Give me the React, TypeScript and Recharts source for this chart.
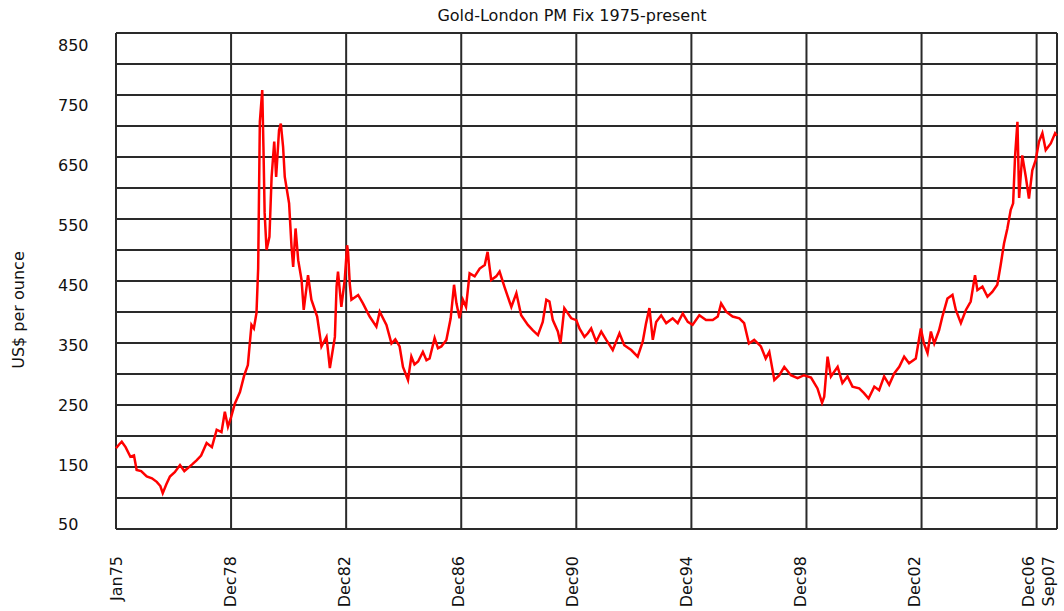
import React from 'react'
import { LineChart, Line, XAxis, YAxis, CartesianGrid } from 'recharts'

// months counted from Jan 1975
const months = [
  0, 1.2, 2.4, 4, 6, 7.5, 8.6, 10.5, 12.8, 15, 17, 18.5, 19.5, 21, 22.5, 24.5, 26.7, 28.5, 30, 32,
  33.6, 35.5, 37.8, 40, 42, 44, 45.4, 46.7, 48, 49.6, 51.7, 53.5, 55, 56.5, 57.5, 58.6, 59.3, 60, 61, 61.5,
  62, 62.8, 64, 64.9, 66, 66.8, 68, 68.75, 69.7, 70.4, 72.2, 73.2, 73.9, 74.9, 76, 77.4, 78.3, 80.1, 81.5, 83.9,
  85.7, 87.8, 89.2, 91.3, 92, 92.6, 94, 95.4, 96.4, 96.8, 97.5, 98.2, 101, 103, 105.8, 108.6, 110, 112.8, 114.9, 116.5,
  118.3, 119.7, 121.8, 123.2, 124.5, 126, 128, 129.5, 130.8, 132.9, 134.3, 135.7, 137.8, 139.6, 141, 142, 143.3, 144.7, 146, 147.5,
  149.6, 151.7, 153.8, 155, 156.5, 158.6, 160, 162, 164.9, 167, 169, 171.8, 173.9, 176, 178, 179.5, 180.8, 182.2, 184.3, 185.4,
  187, 189.9, 192, 193.3, 195.4, 196.8, 198.2, 200.3, 202.4, 204.5, 207.2, 210, 212, 214.9, 217.6, 219.7, 221.1, 222.5, 223.9, 225.3,
  227.4, 229.5, 232.2, 234.3, 236.4, 238.5, 240.5, 243.3, 246.1, 248.9, 251, 252.4, 254.5, 257.2, 260, 262, 264, 266.2, 269, 271,
  272.5, 274.6, 276.7, 278.75, 281.5, 284.3, 287, 289.9, 292.6, 294.5, 295.4, 296.8, 298.2, 301, 303, 305.1, 307.2, 310, 312, 313.9,
  316.3, 318.3, 320.4, 322.5, 324.6, 326.7, 328.75, 330.8, 333.6, 335.7, 337, 338.5, 339.9, 341.3, 343.3, 344.7, 346.8, 348.9, 350.3, 352.4,
  354.5, 356.5, 358.3, 359.3, 361.4, 363.5, 365.5, 367.6, 369, 370.4, 371.8, 373.2, 374.2, 375, 376, 376.7, 378, 379.5, 380.8, 382.2,
  383.6, 385, 386.4, 387.8, 389.9, 391.7, 392.4,
]

// US$ per ounce
const prices = [
  178, 184, 189, 180, 164, 166, 142, 140, 131, 128, 122, 115, 103, 118, 131, 138, 150, 140, 145, 152,
  158, 166, 187, 180, 209, 205, 239, 214, 230, 253, 272, 300, 317, 384, 378, 404, 479, 723, 776, 681,
  571, 509, 531, 631, 690, 631, 709, 720, 681, 631, 587, 515, 481, 545, 492, 459, 409, 467, 426, 398,
  348, 364, 312, 364, 448, 473, 414, 459, 517, 505, 453, 426, 434, 420, 398, 381, 406, 384, 353, 360,
  348, 314, 292, 331, 318, 323, 339, 325, 328, 362, 345, 348, 359, 395, 451, 420, 395, 426, 414, 470,
  465, 478, 484, 506, 459, 465, 473, 448, 414, 437, 400, 384, 375, 367, 389, 426, 423, 392, 373, 353,
  412, 395, 392, 378, 364, 370, 378, 356, 373, 359, 342, 370, 350, 342, 331, 356, 387, 412, 359, 389,
  400, 387, 395, 387, 403, 389, 384, 400, 392, 392, 398, 420, 406, 398, 395, 387, 353, 359, 348, 328,
  339, 292, 300, 314, 300, 295, 300, 296, 278, 254, 264, 331, 298, 314, 287, 298, 281, 278, 270, 261,
  281, 275, 298, 284, 303, 314, 331, 320, 328, 378, 353, 337, 373, 353, 375, 398, 428, 434, 409, 387,
  409, 423, 467, 442, 448, 431, 439, 451, 484, 520, 545, 576, 587, 665, 723, 596, 667, 631, 595, 642,
  659, 690, 704, 676, 687, 704, 700,
]

const tickMonths = [0, 48, 96, 144, 192, 240, 288, 336, 384, 392.5]
const tickLabels = ['Jan75', 'Dec78', 'Dec82', 'Dec86', 'Dec90', 'Dec94', 'Dec98', 'Dec02', 'Dec06', 'Sep07']
const priceTicks = [50, 150, 250, 350, 450, 550, 650, 750, 850]

const Y_MIN = 43.3
const Y_MAX = 871.3
// 16 equal grid bands across the plot, not tied to the labels
const gridLines = Array.from({ length: 17 }, (_, k) => Y_MIN + (k * (Y_MAX - Y_MIN)) / 16)

const data = months.map((m, i) => ({ m, price: prices[i] }))

const FONT = '"DejaVu Sans", sans-serif'

const PriceTick = ({ y, payload }: any) => (
  <text x={58} y={y} dy={5.5} textAnchor="start" fontSize={16} fontFamily={FONT} fill="#111">
    {payload.value}
  </text>
)

const DateTick = ({ x, y, payload }: any) => {
  const label = tickLabels[tickMonths.indexOf(payload.value)]
  const tx = x - (x - 116) * 0.009
  const ty = y + 19
  return (
    <text
      x={tx}
      y={ty}
      transform={`rotate(-90 ${tx} ${ty})`}
      textAnchor="end"
      dominantBaseline="central"
      fontSize={16}
      fontFamily={FONT}
      fill="#111"
    >
      {label}
    </text>
  )
}

export default function App() {
  return (
    <div style={{ position: 'absolute', left: 0, top: 0, width: 1064, height: 611, background: '#fff' }}>
      <div
        style={{
          position: 'absolute',
          top: 6,
          left: 372,
          width: 400,
          textAlign: 'center',
          fontFamily: FONT,
          fontSize: 16,
          color: '#111',
        }}
      >
        Gold-London PM Fix 1975-present
      </div>
      <div
        style={{
          position: 'absolute',
          left: 18,
          top: 310,
          transform: 'translate(-50%, -50%) rotate(-90deg)',
          whiteSpace: 'nowrap',
          fontFamily: FONT,
          fontSize: 16,
          color: '#111',
        }}
      >
        US$ per ounce
      </div>
      <LineChart width={1064} height={611} data={data} margin={{ top: 33, right: 7, left: 0, bottom: 0 }}>
        <CartesianGrid stroke="#2a2a2a" strokeWidth={2} horizontalValues={gridLines} />
        <XAxis
          dataKey="m"
          type="number"
          domain={[0, 392.5]}
          ticks={tickMonths}
          interval={0}
          height={82}
          axisLine={false}
          tickLine={false}
          tick={<DateTick />}
        />
        <YAxis
          type="number"
          domain={[Y_MIN, Y_MAX]}
          ticks={priceTicks}
          interval={0}
          width={116}
          axisLine={false}
          tickLine={false}
          tick={<PriceTick />}
        />
        <Line
          type="linear"
          dataKey="price"
          stroke="#ff0000"
          strokeWidth={2.5}
          dot={false}
          isAnimationActive={false}
        />
      </LineChart>
    </div>
  )
}
